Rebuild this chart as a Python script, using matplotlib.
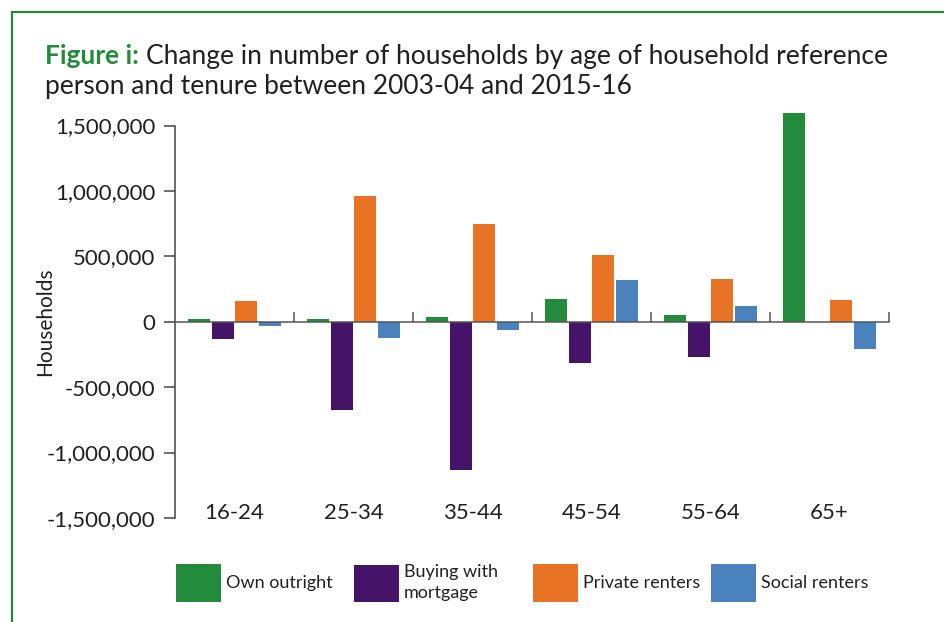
import matplotlib
matplotlib.use("Agg")
from matplotlib import pyplot as plt
from matplotlib.patches import Rectangle
import numpy as np

plt.rcParams['font.family'] = ['Lato', 'DejaVu Sans']

# data
ages = ['16-24', '25-34', '35-44', '45-54', '55-64', '65+']
own_outright = [20000, 20000, 36000, 174000, 51000, 1598000]
buying_mortgage = [-130000, -673000, -1133000, -316000, -270000, -5000]
private_renters = [158000, 962000, 748000, 510000, 327000, 166000]
social_renters = [-30000, -122000, -64000, 319000, 120000, -207000]
y_ticks = [-1500000, -1000000, -500000, 0, 500000, 1000000, 1500000]

series = [
    ('Own outright', own_outright, '#238b3c'),
    ('Buying with\nmortgage', buying_mortgage, '#451468'),
    ('Private renters', private_renters, '#e87325'),
    ('Social renters', social_renters, '#4b82bd'),
]

txt = '#231f20'
green = '#238b3c'

fig = plt.figure(figsize=(9.45, 6.22), dpi=100)
ax = fig.add_axes([175/945, (622-518)/622, 714/945, 412.1/622])

x = np.arange(len(ages))
offsets = [-0.3, -0.1, 0.1, 0.3]
handles = []
for (name, vals, col), off in zip(series, offsets):
    h = ax.bar(x + off, vals, width=0.185, color=col, label=name, zorder=2)
    handles.append(h)

ax.set_xlim(-0.5, 5.5)
ax.set_ylim(-1500000, 1650000)

# spines
for s in ['top', 'right']:
    ax.spines[s].set_visible(False)
ax.spines['left'].set_bounds(-1500000, 1500000)
ax.spines['left'].set_color('#444444')
ax.spines['left'].set_linewidth(1.1)
ax.spines['bottom'].set_position(('data', 0))
ax.spines['bottom'].set_color('#555555')
ax.spines['bottom'].set_linewidth(1.1)
ax.spines['bottom'].set_zorder(3)

ax.set_yticks(y_ticks)
ax.set_yticklabels(['{:,}'.format(v) for v in y_ticks])
ax.tick_params(axis='y', length=8, width=1.1, color='#444444', pad=6,
               labelsize=16, labelcolor=txt)
ax.set_xticks(np.arange(0.5, 6, 1))
ax.set_xticklabels([])
ax.tick_params(axis='x', direction='in', length=7, width=1.1, color='#555555')

for i, lab in enumerate(ages):
    ax.text(i, -1460000, lab, ha='center', va='center', fontsize=16, color=txt)

ax.set_ylabel('Households', fontsize=15, color=txt)
ax.yaxis.set_label_coords((55-175)/714, (518-322)/412.1)

# legend: one entry per fixed column, like the reference
leg_x = [176, 354, 533, 711]
for h, lx in zip(handles, leg_x):
    leg = fig.legend(handles=[h], loc='center left', bbox_to_anchor=(lx/945, 1-583/622),
                     frameon=False, fontsize=13, handlelength=2.5, handleheight=2.8,
                     handletextpad=0.28, borderaxespad=0, borderpad=0, labelspacing=0.2)
    for t in leg.get_texts():
        t.set_color(txt)
        t.set_linespacing(1.35)

# title
r = fig.canvas.get_renderer()
t1 = fig.text(45/945, 1-64/622, 'Figure i:', fontsize=19, fontweight='bold',
              color=green, va='baseline')
bb = t1.get_window_extent(renderer=r)
fig.text((bb.x1 + 7)/945, 1-64/622,
         'Change in number of households by age of household reference',
         fontsize=19, color=txt, va='baseline')
fig.text(45/945, 1-94/622, 'person and tenure between 2003-04 and 2015-16',
         fontsize=19, color=txt, va='baseline')

# green frame on the left and top
fig.add_artist(Rectangle((12/945, -0.1), 1.2, 1-12/622+0.1, transform=fig.transFigure,
                         fill=False, edgecolor=green, linewidth=1.6))

fig.savefig('out.png', dpi=100)
